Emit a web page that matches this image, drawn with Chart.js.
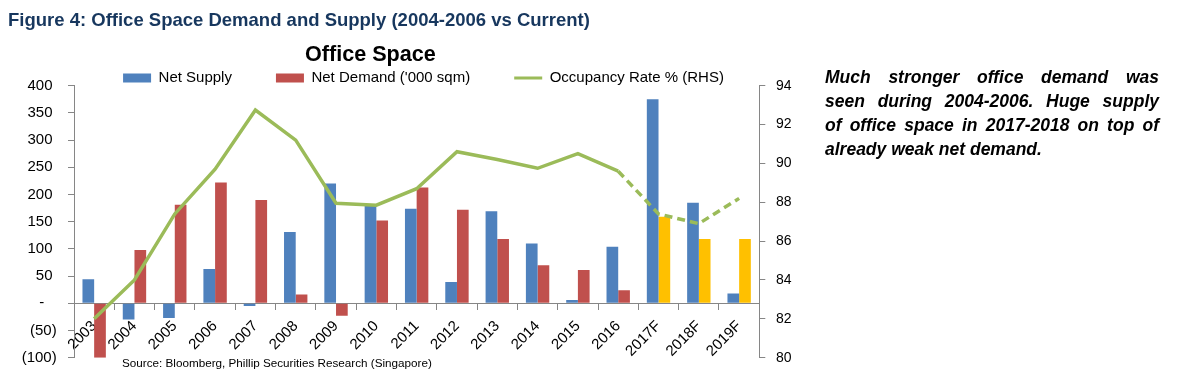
<!DOCTYPE html>
<html>
<head>
<meta charset="utf-8">
<script src="https://cdn.jsdelivr.net/npm/chart.js@4"></script>
<style>
html,body{margin:0;padding:0;background:#fff;}
body{width:1178px;height:388px;position:relative;overflow:hidden;font-family:'Liberation Sans',Arial,sans-serif;}
#c{position:absolute;left:0;top:0;z-index:1;}
.txt{position:absolute;white-space:nowrap;z-index:2;}
#fig{left:8px;top:10.4px;font-size:18.5px;line-height:20px;font-weight:bold;color:#17375E;}
#ctitle{left:305px;top:41.2px;font-size:21.6px;line-height:26px;font-weight:bold;color:#000;}
#src{left:122px;top:356px;font-size:11.7px;line-height:14px;color:#000;}
#note{position:absolute;z-index:2;left:825px;top:65.4px;width:334px;font-size:17.5px;line-height:24px;font-weight:bold;font-style:italic;color:#000;}
#note .j{text-align:justify;text-align-last:justify;height:24px;}
#note .l{text-align:left;height:24px;}
</style>
</head>
<body>
<div class="txt" id="fig">Figure 4: Office Space Demand and Supply (2004-2006 vs Current)</div>
<div class="txt" id="ctitle">Office Space</div>
<div class="txt" id="src">Source: Bloomberg, Phillip Securities Research (Singapore)</div>
<div id="note">
<div class="j">Much stronger office demand was</div>
<div class="j">seen during 2004-2006. Huge supply</div>
<div class="j">of office space in 2017-2018 on top of</div>
<div class="l">already weak net demand.</div>
</div>
<canvas id="c" width="847" height="388" style="width:847px;height:388px;"></canvas>
<script>
// ---- data ----
const categories = ['2003','2004','2005','2006','2007','2008','2009','2010','2011','2012','2013','2014','2015','2016','2017F','2018F','2019F'];
const netSupply = [44, -30, -27, 63, -5, 131, 220, 180, 174, 39, 169, 110, 6, 104, 375, 185, 18];
const netDemand = [-100, 98, 181, 222, 190, 16, -23, 152, 213, 172, 118, 70, 61, 24, 159, 118, 118];
const occupancyRate = [82.0, 84.0, 87.4, 89.7, 92.75, 91.2, 87.95, 87.85, 88.7, 90.6, 90.2, 89.75, 90.5, 89.6, 87.4, 86.9, 88.2];
const leftAxisRange = [-100, 400, 50];
const rightAxisRange = [80, 94, 2];
const seriesNames = ['Net Supply', "Net Demand ('000 sqm)", 'Occupancy Rate % (RHS)'];

// ---- styles ----
const BLUE = '#4F81BD', RED = '#C0504D', YELLOW = '#FFC000', GREEN = '#9BBB59', GRAY = '#868686';
const lastActualIdx = categories.indexOf('2016');
const demandColors = categories.map(c => c.endsWith('F') ? YELLOW : RED);

Chart.defaults.font.family = "'Liberation Sans', Arial, sans-serif";
Chart.defaults.color = '#000';

new Chart(document.getElementById('c'), {
  data: {
    labels: categories,
    datasets: [
      { type: 'bar', label: seriesNames[0], data: netSupply, backgroundColor: BLUE, borderWidth: 0,
        yAxisID: 'y', order: 2, barPercentage: 1, categoryPercentage: 0.58 },
      { type: 'bar', label: seriesNames[1], data: netDemand, backgroundColor: demandColors, borderWidth: 0,
        yAxisID: 'y', order: 2, barPercentage: 1, categoryPercentage: 0.58 },
      { type: 'line', label: seriesNames[2], data: occupancyRate, yAxisID: 'y1', order: 0,
        borderColor: GREEN, backgroundColor: GREEN, borderWidth: 3.5, pointRadius: 0, tension: 0,
        borderCapStyle: 'butt', borderJoinStyle: 'miter',
        segment: { borderDash: ctx => ctx.p0DataIndex >= lastActualIdx ? [8, 5] : undefined } }
    ]
  },
  options: {
    responsive: false,
    animation: false,
    layout: { padding: { top: 26.5, bottom: 30.3, left: 0, right: 0 } },
    plugins: {
      tooltip: { enabled: false },
      title: { display: false },
      legend: {
        display: true,
        position: 'top',
        maxHeight: 59.2,
        labels: {
          usePointStyle: true,
          pointStyleWidth: 28,
          boxHeight: 9,
          padding: 44,
          color: '#000',
          font: { size: 15 },
          generateLabels: () => [
            { text: seriesNames[0], fillStyle: BLUE, strokeStyle: BLUE, lineWidth: 0, pointStyle: 'rect', hidden: false, datasetIndex: 0, fontColor: '#000' },
            { text: seriesNames[1], fillStyle: RED, strokeStyle: RED, lineWidth: 0, pointStyle: 'rect', hidden: false, datasetIndex: 1, fontColor: '#000' },
            { text: seriesNames[2], fillStyle: GREEN, strokeStyle: GREEN, lineWidth: 3, pointStyle: 'line', hidden: false, datasetIndex: 2, fontColor: '#000' }
          ]
        }
      }
    },
    scales: {
      x: {
        position: { y: 0 },
        offset: true,
        grid: { offset: true, drawOnChartArea: false, drawTicks: true, tickLength: 6, color: GRAY },
        border: { color: GRAY },
        ticks: { maxRotation: 45, minRotation: 45, autoSkip: false, padding: 8, color: '#000', font: { size: 15 } },
        afterFit: s => { s.height = 0; }
      },
      y: {
        position: 'left',
        min: leftAxisRange[0], max: leftAxisRange[1],
        grid: { drawOnChartArea: false, drawTicks: true, tickLength: 6, color: GRAY },
        border: { color: GRAY },
        ticks: {
          stepSize: leftAxisRange[2], padding: 11.3, color: '#000', font: { size: 15 },
          callback: v => v === 0 ? '-   ' : (v < 0 ? '(' + (-v) + ')' : v + ' ')
        },
        afterFit: s => { s.width = 74; }
      },
      y1: {
        position: 'right',
        min: rightAxisRange[0], max: rightAxisRange[1],
        grid: { drawOnChartArea: false, drawTicks: true, tickLength: 6, color: GRAY },
        border: { color: GRAY },
        ticks: { stepSize: rightAxisRange[2], padding: 10.7, color: '#000', font: { size: 14 } },
        afterFit: s => { s.width = 87.7; }
      }
    }
  }
});
</script>
</body>
</html>
